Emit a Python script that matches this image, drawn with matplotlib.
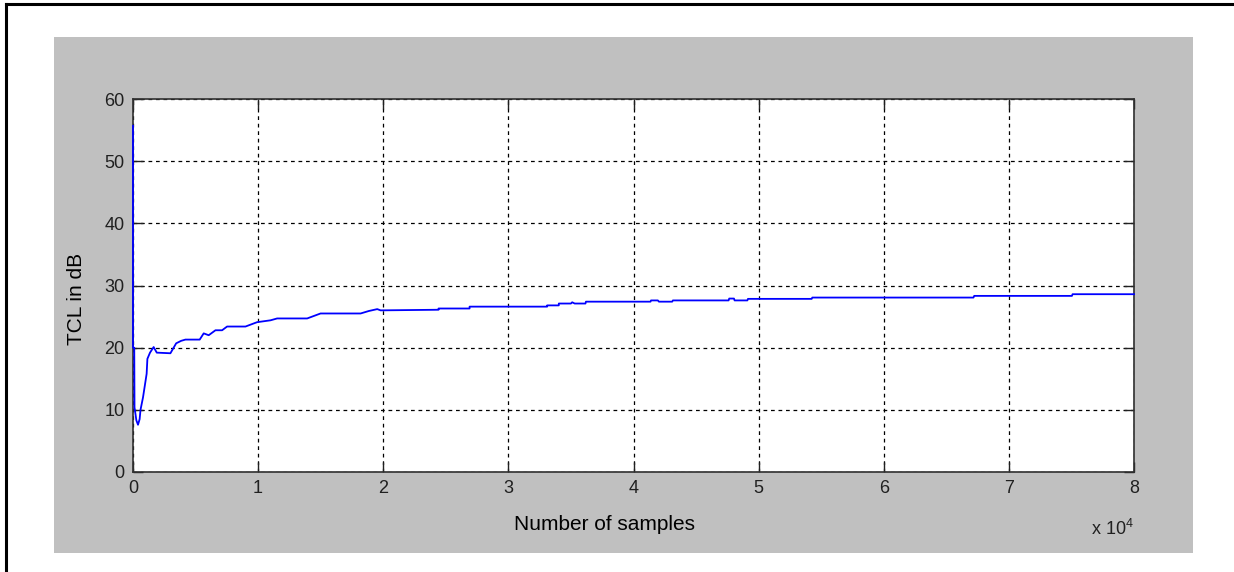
import matplotlib
matplotlib.use('Agg')
import matplotlib.pyplot as plt
from matplotlib.patches import Rectangle
from matplotlib.lines import Line2D

# TCL curve (samples, dB)
samples = [0, 0, 100, 120, 270, 400, 530, 600, 800, 1090, 1150, 1360, 1650,
           1900, 2990, 3450, 3850, 4190, 5330, 5650, 6050, 6590, 7120, 7520,
           8990, 9920, 10990, 11520, 13920, 14990, 18190, 18850, 19520, 19790,
           24420, 24420, 26900, 26900, 33100, 33100, 34030, 34030, 35000,
           35100, 35300, 36160, 36200, 41360, 41400, 41950, 42030, 43090,
           43150, 47600, 47650, 48030, 48080, 49100, 49150, 54240, 54290,
           67170, 67230, 75040, 75090, 80000]
tcl_db = [55.7, 20.0, 20.0, 10.4, 8.3, 7.6, 8.5, 10.0, 12.0, 15.8, 18.2, 19.2, 20.1,
          19.2, 19.1, 20.7, 21.1, 21.3, 21.3, 22.3, 22.0, 22.8, 22.8, 23.4,
          23.4, 24.1, 24.4, 24.7, 24.7, 25.5, 25.5, 25.9, 26.2, 26.0,
          26.1, 26.3, 26.3, 26.6, 26.6, 26.8, 26.8, 27.1, 27.1,
          27.3, 27.1, 27.1, 27.4, 27.4, 27.6, 27.6, 27.4, 27.4,
          27.6, 27.6, 27.9, 27.9, 27.6, 27.6, 27.85, 27.85, 28.06,
          28.06, 28.33, 28.33, 28.6, 28.6]

x_ticks = [0, 10000, 20000, 30000, 40000, 50000, 60000, 70000, 80000]
x_tick_labels = ['0', '1', '2', '3', '4', '5', '6', '7', '8']
y_ticks = [0, 10, 20, 30, 40, 50, 60]

plt.rcParams['mathtext.default'] = 'regular'
tick_font = ['Liberation Sans Narrow', 'Liberation Sans', 'DejaVu Sans']
label_font = ['Liberation Sans', 'DejaVu Sans']

W, H = 1234, 572
fig = plt.figure(figsize=(W / 100, H / 100), dpi=100)
fig.patch.set_facecolor('white')

# gray figure panel, as in MATLAB
fig.add_artist(Rectangle((54 / W, 1 - 553 / H), (1193 - 54) / W, (553 - 37) / H,
                         transform=fig.transFigure, facecolor='#c0c0c0',
                         edgecolor='none', zorder=-5))
# black frame on left and top edges
fig.add_artist(Line2D([5.5 / W, 5.5 / W], [0, 1 - 3.5 / H], transform=fig.transFigure,
                      color='black', lw=2.2, zorder=-5))
fig.add_artist(Line2D([5.5 / W, 1], [1 - 3.5 / H, 1 - 3.5 / H], transform=fig.transFigure,
                      color='black', lw=2.2, zorder=-5))

ax = fig.add_axes([133 / W, 1 - 472 / H, (1134 - 133) / W, (472 - 99) / H])
ax.set_zorder(1)
ax.set_facecolor('white')
ax.plot(samples, tcl_db, color='#0000ff', lw=1.3, zorder=3, clip_on=False)

ax.set_xlim(0, 80000)
ax.set_ylim(0, 60)
ax.set_xticks(x_ticks)
ax.set_xticklabels(x_tick_labels)
ax.set_yticks(y_ticks)
ax.grid(True, color='black', linestyle=(0, (3, 3)), lw=0.9)
ax.tick_params(direction='in', length=7, width=1, top=True, right=True,
               labelsize=13, colors='#202020', pad=6)
for lab in ax.get_xticklabels() + ax.get_yticklabels():
    lab.set_family(tick_font)
for sp in ax.spines.values():
    sp.set_color('#303030')
    sp.set_linewidth(1.2)
    sp.set_zorder(2)

ax.text((605 - 133) / 1001, -(524 - 472) / 373, 'Number of samples', transform=ax.transAxes,
        ha='center', va='center', fontsize=15, family=label_font)
ax.text(-(133 - 76) / 1001, (472 - 299) / 373, 'TCL in dB', transform=ax.transAxes,
        ha='center', va='center', rotation=90, fontsize=15, family=label_font)
ax.text(1.0, -(535 - 472) / 373, 'x 10$^{4}$', transform=ax.transAxes,
        ha='right', va='baseline', fontsize=13, family=tick_font, color='#202020')

fig.savefig('out.png', dpi=100)
